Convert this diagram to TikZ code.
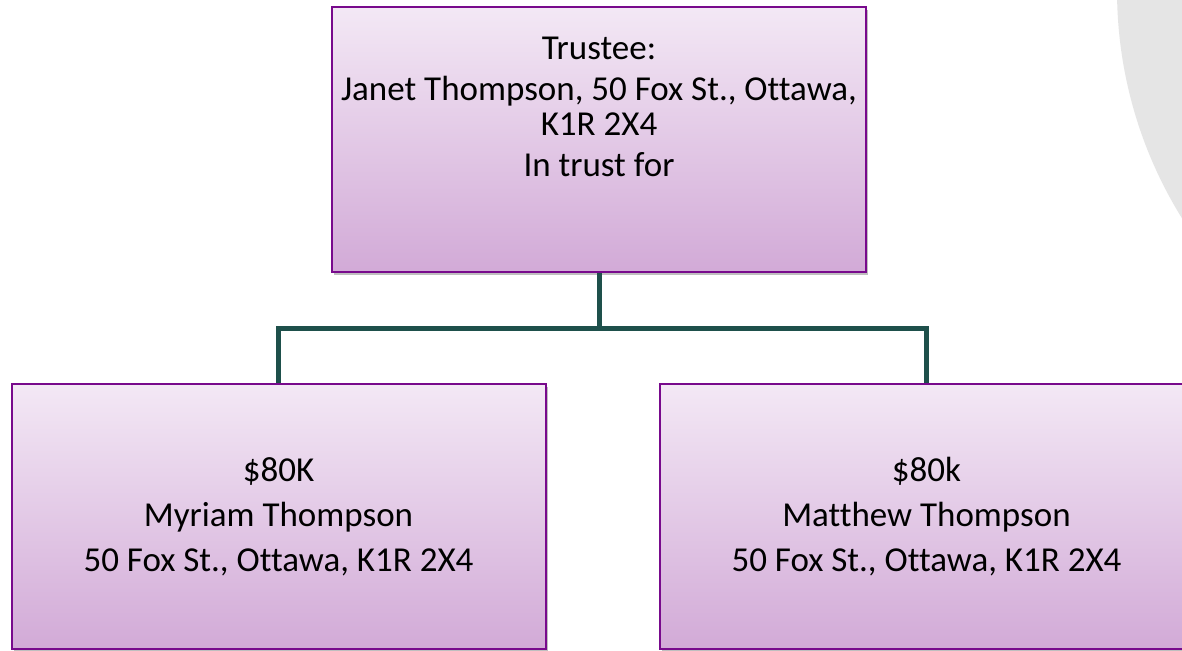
\documentclass[tikz,border=0pt]{standalone}
\usepackage{fontspec}
\setmainfont[Ligatures=NoCommon]{Carlito}
\usetikzlibrary{shadows}

\definecolor{boxedge}{RGB}{120,10,140}
\definecolor{boxtop}{RGB}{243,232,245}
\definecolor{boxbot}{RGB}{210,170,215}
\definecolor{linkteal}{RGB}{30,80,75}
\definecolor{swoosh}{RGB}{229,229,229}

\tikzset{
  trustbox/.style={draw=boxedge, line width=2pt, top color=boxtop, bottom color=boxbot,
    minimum width=534pt, minimum height=265pt, align=center, inner sep=0pt,
    font=\fontsize{35}{35}\selectfont,
    drop shadow={shadow xshift=2pt, shadow yshift=-3pt, opacity=0.25, fill=black}},
  link/.style={linkteal, line width=5pt}
}

\begin{document}
\begin{tikzpicture}[x=1pt,y=-1pt]
                \useasboundingbox (0,0) rectangle (1182,650);
                \fill[white] (0,0) rectangle (1182,650);
                % grey shape on the right edge
                \fill[swoosh] (1550,-10) circle (433);
                \node[trustbox] (trustee) at (599,139.5)
                    {Trustee:\\[6pt] Janet Thompson, 50 Fox St., Ottawa,\\ K1R 2X4\\[6pt] In trust for\\[30pt]\mbox{}};
                \node[trustbox] (myriam) at (278.5,516.5)
                    {\$80K\\[10pt] Myriam Thompson\\[10pt] 50 Fox St., Ottawa, K1R 2X4};
                \node[trustbox] (matthew) at (926.5,516.5)
                    {\$80k\\[10pt] Matthew Thompson\\[10pt] 50 Fox St., Ottawa, K1R 2X4};
                \draw[link] (trustee.south) -- ++(0,55) coordinate (split) -| (myriam.north);
                \draw[link] (split) -| (matthew.north);
            \end{tikzpicture}
\end{document}
